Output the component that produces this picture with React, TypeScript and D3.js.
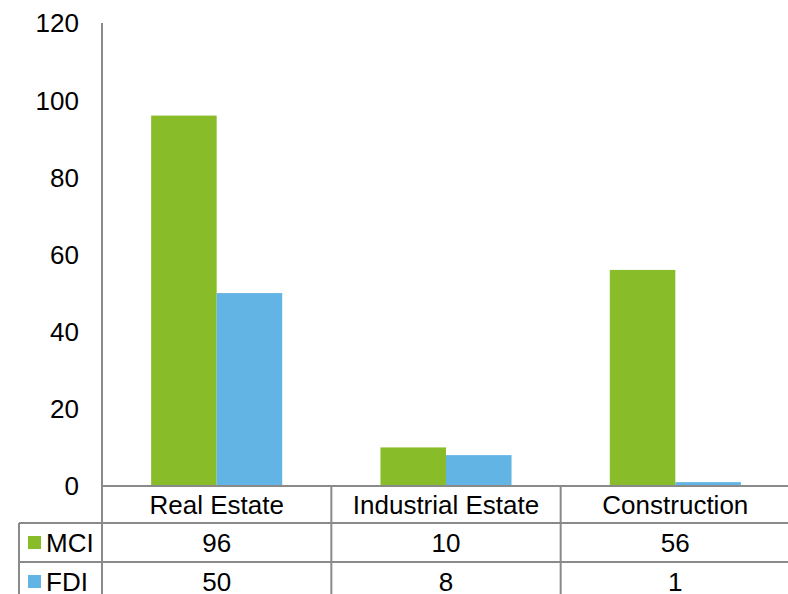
import React from "react";
import * as d3 from "d3";

const categories = ["Real Estate", "Industrial Estate", "Construction"];
const seriesNames = ["MCI", "FDI"];
const mciValues = [96, 10, 56];
const fdiValues = [50, 8, 1];
const yTicks = [0, 20, 40, 60, 80, 100, 120];

const colors: Record<string, string> = { MCI: "#89BC29", FDI: "#62B4E4" };
const seriesValues: Record<string, number[]> = { MCI: mciValues, FDI: fdiValues };

const W = 788;
const H = 594;
const left = 102;
const right = 790;
const top = 23;
const base = 486;
const tableLeft = 19;
const rowH = [37, 39, 39];
const lineColor = "#8A8A8A";
const font = "'Liberation Sans', Arial, sans-serif";
const fs = 26;

export default function App() {
  const x = d3.scaleBand<string>().domain(categories).range([left, right]).paddingInner(0).paddingOuter(0);
  const x1 = d3.scaleBand<string>().domain(seriesNames).range([0, x.bandwidth()]).paddingInner(0).paddingOuter(0.75);
  const y = d3.scaleLinear().domain([0, 120]).range([base, top]);

  const rowTops = [base, base + rowH[0], base + rowH[0] + rowH[1]];
  const tableBottom = rowTops[2] + rowH[2];

  return (
    <div style={{ position: "fixed", left: 0, top: 0, width: W, height: H, background: "#fff" }}>
      <svg width={W} height={H} style={{ display: "block" }} fontFamily={font}>
        <rect x={0} y={0} width={W} height={H} fill="#fff" />
        {/* bars */}
        {categories.map((c, i) =>
          seriesNames.map((s) => {
            const v = seriesValues[s][i];
            return (
              <rect
                key={c + s}
                x={(x(c) as number) + (x1(s) as number)}
                y={y(v)}
                width={x1.bandwidth()}
                height={base - y(v)}
                fill={colors[s]}
              />
            );
          })
        )}
        {/* y tick labels */}
        {yTicks.map((t) => (
          <text key={t} x={79} y={y(t)} dy="0.36em" textAnchor="end" fontSize={fs} fill="#000">
            {t}
          </text>
        ))}
        {/* axis & table lines */}
        <g stroke={lineColor} strokeWidth={2} fill="none">
          <line x1={left} x2={left} y1={top} y2={tableBottom} />
          <line x1={left} x2={right} y1={base} y2={base} />
          <line x1={tableLeft} x2={right} y1={rowTops[1]} y2={rowTops[1]} />
          <line x1={tableLeft} x2={right} y1={rowTops[2]} y2={rowTops[2]} />
          <line x1={tableLeft} x2={tableLeft} y1={rowTops[1]} y2={tableBottom} />
          {categories.slice(1).map((c) => (
            <line key={c} x1={x(c)} x2={x(c)} y1={base} y2={tableBottom} />
          ))}
        </g>
        {/* category header */}
        {categories.map((c) => (
          <text
            key={c}
            x={(x(c) as number) + x.bandwidth() / 2}
            y={rowTops[0] + rowH[0] / 2}
            dy="0.36em"
            textAnchor="middle"
            fontSize={fs}
            fill="#000"
          >
            {c}
          </text>
        ))}
        {/* data rows */}
        {seriesNames.map((s, r) => {
          const ty = rowTops[r + 1];
          const cy = ty + rowH[r + 1] / 2;
          return (
            <g key={s}>
              <rect x={28} y={cy - 6.5} width={13} height={13} fill={colors[s]} />
              <text x={46} y={cy} dy="0.36em" fontSize={fs} fill="#000">
                {s}
              </text>
              {categories.map((c, i) => (
                <text
                  key={c}
                  x={(x(c) as number) + x.bandwidth() / 2}
                  y={cy}
                  dy="0.36em"
                  textAnchor="middle"
                  fontSize={fs}
                  fill="#000"
                >
                  {seriesValues[s][i]}
                </text>
              ))}
            </g>
          );
        })}
      </svg>
    </div>
  );
}
